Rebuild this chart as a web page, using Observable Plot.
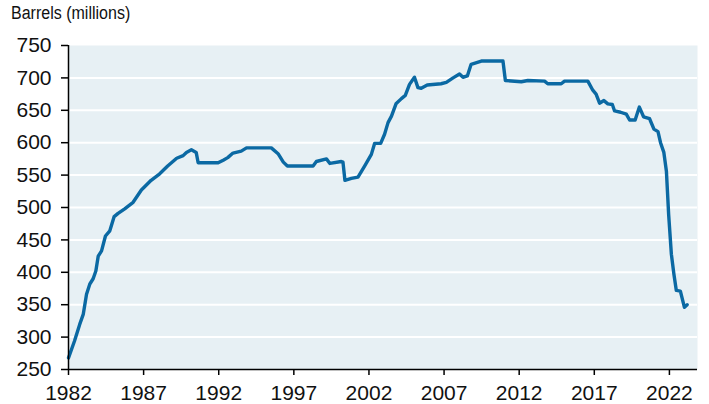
<!DOCTYPE html>
<html>
<head>
<meta charset="utf-8">
<script src="https://cdn.jsdelivr.net/npm/d3@7"></script>
<script src="https://cdn.jsdelivr.net/npm/@observablehq/plot@0.6"></script>
<style>
  html, body { margin: 0; padding: 0; background: #fff; }
  #wrap { width: 709px; font-family: "Liberation Sans", Arial, sans-serif; }
  #sub { height: 28px; position: relative; }
  #sub span { position: absolute; left: 11px; top: 3px; font-size: 18px; color: #111; transform: scaleX(0.89); transform-origin: left; display: inline-block; }
  #chart svg text { font-size: 21px !important; font-family: "Liberation Sans", Arial, sans-serif !important; }
</style>
</head>
<body>
<div id="wrap">
  <div id="sub"><span>Barrels (millions)</span></div>
  <div id="chart"></div>
</div>
<script>
const years = [1982.0,1982.4,1982.75,1982.98,1983.2,1983.42,1983.64,1983.82,1983.98,1984.2,1984.46,1984.75,1985.04,1985.3,1985.74,1986.3,1986.85,1987.5,1988.07,1988.6,1989.2,1989.63,1989.85,1990.18,1990.5,1990.63,1991.96,1992.3,1992.6,1992.95,1993.5,1993.85,1995.5,1995.95,1996.3,1996.57,1998.28,1998.5,1999.17,1999.4,2000.16,2000.27,2000.4,2000.83,2001.27,2001.71,2002.16,2002.38,2002.78,2003.04,2003.27,2003.5,2003.8,2004.16,2004.42,2004.7,2005.03,2005.26,2005.48,2005.88,2006.8,2007.15,2007.6,2008.03,2008.26,2008.55,2008.8,2009.48,2010.92,2011.08,2012.14,2012.58,2013.69,2013.9,2014.8,2015.02,2016.57,2016.9,2017.12,2017.35,2017.64,2017.9,2018.2,2018.35,2018.75,2019.13,2019.35,2019.72,2020.0,2020.28,2020.68,2020.97,2021.24,2021.41,2021.63,2021.8,2021.95,2022.13,2022.3,2022.46,2022.73,2023.0,2023.18];
const barrels = [268,294,320,335,366,382,390,402,425,433,456,464,486,491,498,508,527,542,552,564,576,580,585,589,585,569,569,573,577,584,587,592,592,583,570,564,564,571,575,568,571,570,542,545,547,564,582,599,599,613,631,641,660,668,673,690,701,685,684,689,691,693,700,706,701,703,721,726,726,696,694,696,695,691,691,695,695,681,675,661,665,660,659,649,647,644,635,635,655,640,637,621,617,600,585,556,489,428,397,372,371,346,350];
const xTicks = [1982,1987,1992,1997,2002,2007,2012,2017,2022];
const yTicks = [250,300,350,400,450,500,550,600,650,700,750];
const gridValues = [300,350,400,450,500,550,600,650,700];

const data = years.map((y, i) => ({year: y, value: barrels[i]}));

const chart = Plot.plot({
  width: 709,
  height: 376,
  marginTop: 17,
  marginBottom: 35,
  marginLeft: 68,
  marginRight: 12,
  style: {fontFamily: '"Liberation Sans", Arial, sans-serif', fontSize: "21px", color: "#111", background: "#fff"},
  x: {domain: [1982, 2023.87], ticks: xTicks, tickFormat: d => String(d), label: null, tickSize: 6, tickPadding: 9},
  y: {domain: [250, 750], ticks: yTicks, label: null, tickSize: 7, tickPadding: 10},
  marks: [
    Plot.frame({fill: "#e7f0f4", stroke: null}),
    Plot.ruleY(gridValues, {stroke: "#fff", strokeWidth: 2}),
    Plot.line(data, {x: "year", y: "value", stroke: "#0b69a3", strokeWidth: 3.4, strokeLinejoin: "round", strokeLinecap: "round"}),
    Plot.axisX({ticks: xTicks, tickFormat: d => String(d), tickSize: 6, tickPadding: 10, stroke: "#000", strokeWidth: 1.5, fill: "#111", fontSize: 21}),
    Plot.axisY({ticks: yTicks, tickSize: 7, tickPadding: 10, stroke: "#000", strokeWidth: 1.5, fill: "#111", fontSize: 21}),
    Plot.ruleY([250], {stroke: "#000", strokeWidth: 1.5}),
    Plot.ruleX([1982], {stroke: "#000", strokeWidth: 1.5})
  ]
});
document.getElementById("chart").appendChild(chart);
</script>
</body>
</html>
